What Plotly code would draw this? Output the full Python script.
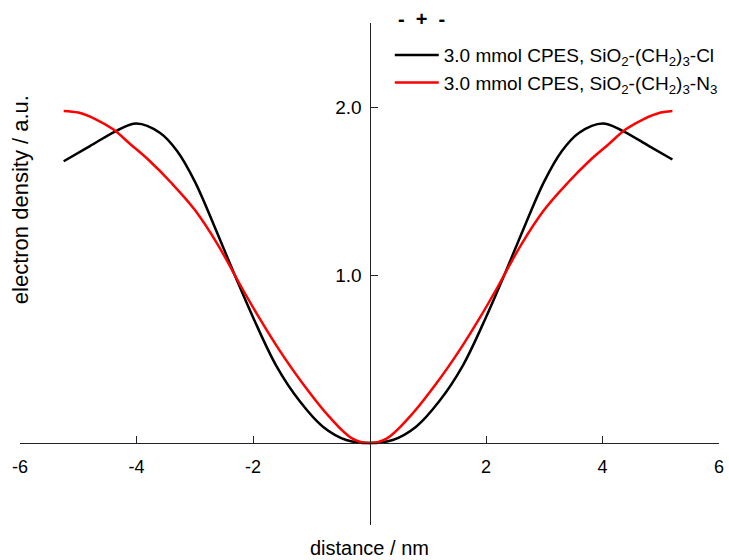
import plotly.graph_objects as go

# distance / nm and electron density
x_cl = [-5.25, -4.8, -4.35, -4.0, -3.6, -3.3, -3.0, -2.6, -2.3, -2.0, -1.6, -1.2, -0.8, -0.4, 0.0,
        0.4, 0.8, 1.2, 1.6, 2.0, 2.3, 2.6, 3.0, 3.3, 3.6, 4.0, 4.35, 4.8, 5.2]
y_cl = [1.68, 1.77, 1.86, 1.905, 1.85, 1.74, 1.56, 1.24, 0.99, 0.75, 0.46, 0.25, 0.097, 0.018, 0.0,
        0.018, 0.097, 0.25, 0.46, 0.75, 0.99, 1.24, 1.56, 1.74, 1.85, 1.905, 1.86, 1.77, 1.69]

x_n3 = [-5.25, -5.0, -4.7, -4.4, -4.1, -3.8, -3.4, -3.0, -2.6, -2.2, -1.9, -1.55, -1.15, -0.7, -0.3, 0.0,
        0.3, 0.7, 1.15, 1.55, 1.9, 2.2, 2.6, 3.0, 3.4, 3.8, 4.1, 4.4, 4.7, 5.0, 5.2]
y_n3 = [1.98, 1.97, 1.93, 1.87, 1.78, 1.69, 1.55, 1.39, 1.18, 0.93, 0.75, 0.555, 0.356, 0.16, 0.028, 0.0,
        0.028, 0.16, 0.356, 0.555, 0.75, 0.93, 1.18, 1.39, 1.55, 1.69, 1.78, 1.87, 1.93, 1.97, 1.98]

names = [
    "3.0 mmol CPES, SiO<sub>2</sub>-(CH<sub>2</sub>)<sub>3</sub>-Cl",
    "3.0 mmol CPES, SiO<sub>2</sub>-(CH<sub>2</sub>)<sub>3</sub>-N<sub>3</sub>",
]

x_ticks = [-6, -4, -2, 2, 4, 6]
y_ticks = [1.0, 2.0]
x_range = [-6, 6]
y_range = [-0.489, 2.504]

font = "Liberation Sans, Arial, sans-serif"

fig = go.Figure()
fig.add_trace(go.Scatter(x=x_cl, y=y_cl, mode="lines", name=names[0],
                         line=dict(color="black", width=2.5, shape="spline")))
fig.add_trace(go.Scatter(x=x_n3, y=y_n3, mode="lines", name=names[1],
                         line=dict(color="#ff0000", width=2.5, shape="spline")))

# axes cross at the origin
x_pos = -y_range[0] / (y_range[1] - y_range[0])

fig.update_layout(
    width=729, height=560,
    margin=dict(l=20, r=10, t=23, b=35, autoexpand=False),
    plot_bgcolor="white", paper_bgcolor="white",
    font=dict(family=font, color="black"),
    xaxis=dict(
        range=x_range, anchor="free", position=x_pos,
        showgrid=False, zeroline=False,
        showline=True, linecolor="#222", linewidth=1,
        ticks="inside", ticklen=7, tickcolor="#222",
        tickvals=x_ticks, ticktext=[str(v) for v in x_ticks],
        tickfont=dict(size=18), ticklabelstandoff=7,
    ),
    yaxis=dict(
        range=y_range, anchor="free", position=0.5,
        showgrid=False, zeroline=False,
        showline=True, linecolor="#222", linewidth=1,
        ticks="inside", ticklen=7, tickcolor="#222",
        tickvals=y_ticks, ticktext=["%.1f" % v for v in y_ticks],
        tickfont=dict(size=19), ticklabelstandoff=4,
    ),
    legend=dict(
        x=0.529, y=0.974, xanchor="left", yanchor="top",
        bgcolor="rgba(0,0,0,0)", font=dict(size=19),
        itemwidth=44, tracegroupgap=0,
    ),
    annotations=[
        dict(text="<b>- &nbsp;+ &nbsp;-</b>", xref="paper", yref="paper", x=0.5737, y=1.008,
             xanchor="center", yanchor="middle", showarrow=False, font=dict(size=20)),
        dict(text="distance / nm", xref="paper", yref="paper", x=0.5, y=-0.046,
             xanchor="center", yanchor="middle", showarrow=False, font=dict(size=20)),
        dict(text="electron density / a.u.", xref="paper", yref="paper", x=0.0, y=0.647,
             xanchor="center", yanchor="middle", textangle=-90, showarrow=False,
             font=dict(size=22)),
    ],
)

fig.write_html("out.html", config={"displayModeBar": False},
               post_script="document.body.style.margin='0';")
